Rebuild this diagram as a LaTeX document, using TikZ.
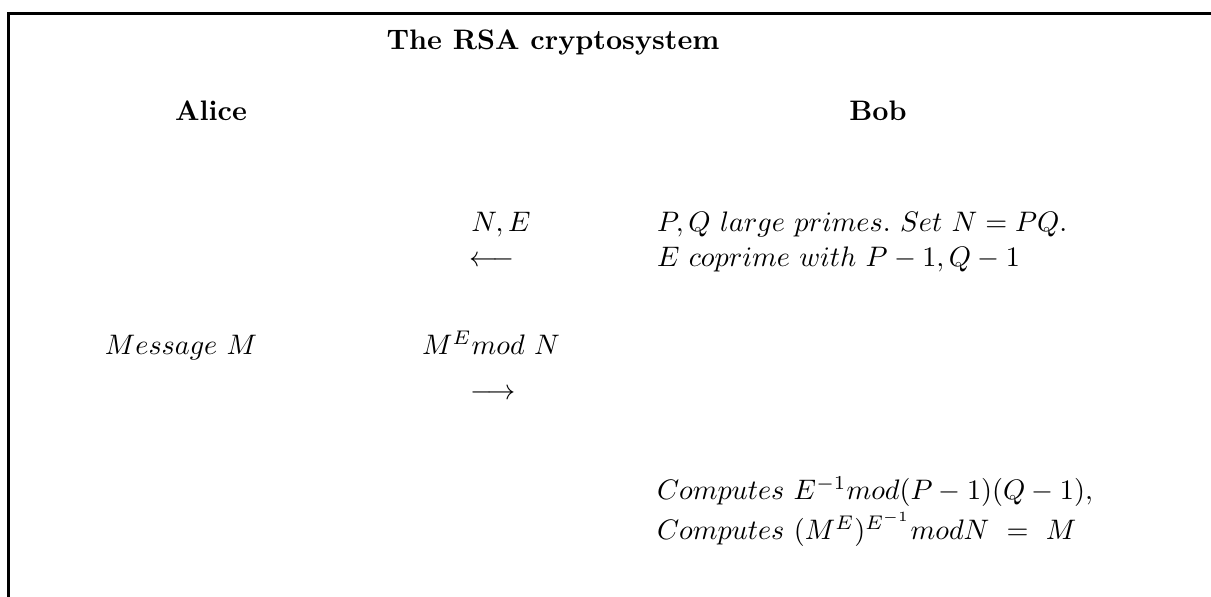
\documentclass[tikz,border=0pt]{standalone}
\begin{document}
\begin{tikzpicture}[x=0.3546pt,y=-0.3546pt,
  txt/.style={inner sep=0pt,outer sep=0pt},
  lft/.style={txt,anchor=base west},
  ctr/.style={txt,anchor=base},
  frame/.style={line width=1.05pt}]
\useasboundingbox (0,0) rectangle (1211,597);
\draw[frame] (8.5,597) -- (8.5,13.5) -- (1211,13.5);
\node[ctr] (title) at (553,50) {\textbf{The RSA cryptosystem}};
\node[ctr] (alice) at (211,121) {\textbf{Alice}};
\node[ctr] (bob) at (878,121) {\textbf{Bob}};
\node[ctr] (ne) at (501,232) {$N,E$};
\node[ctr] (la) at (492,267) {$\longleftarrow$};
\node[lft] (pq) at (657,232) {$P,Q\ large\ primes.\ Set\ N=PQ.$};
\node[lft] (ec) at (657,267) {$E\ coprime\ with\ P-1,Q-1$};
\node[lft] (msg) at (105,355) {$Message\ M$};
\node[ctr] (me) at (491,355) {$M^E mod\ N$};
\node[ctr] (ra) at (493,400) {$\longrightarrow$};
\node[lft] (c1) at (657,500) {$Computes\ E^{-1}mod(P-1)(Q-1),$};
\node[lft] (c2) at (657,540) {$Computes\ (M^E)^{E^{-1}}modN\ =\ M$};
\end{tikzpicture}
\end{document}
